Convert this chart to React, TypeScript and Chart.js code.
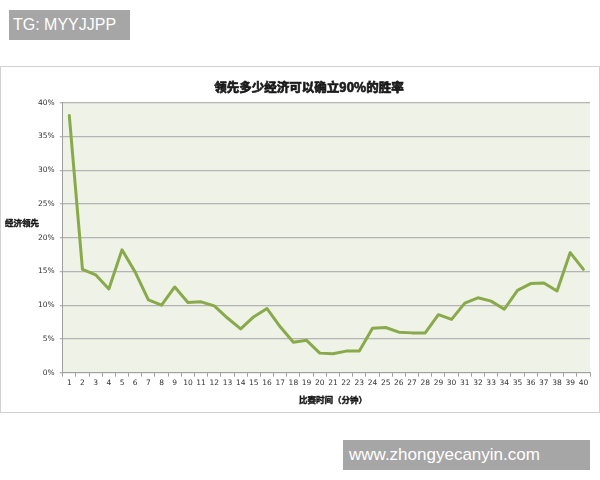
import React, { useEffect, useRef } from 'react';
import { Chart, registerables } from 'chart.js';

Chart.register(...registerables);

// minutes 1..40
const minutes: string[] = [
  '1', '2', '3', '4', '5', '6', '7', '8', '9', '10',
  '11', '12', '13', '14', '15', '16', '17', '18', '19', '20',
  '21', '22', '23', '24', '25', '26', '27', '28', '29', '30',
  '31', '32', '33', '34', '35', '36', '37', '38', '39', '40',
];

// gold lead needed (%) for a 90% win rate
const leadPct: number[] = [
  38.1, 15.3, 14.5, 12.4, 18.2, 14.9, 10.8, 10.0, 12.7, 10.4,
  10.5, 9.9, 8.1, 6.5, 8.3, 9.5, 6.8, 4.5, 4.8, 2.9,
  2.8, 3.2, 3.2, 6.6, 6.7, 6.0, 5.9, 5.9, 8.6, 7.9,
  10.3, 11.1, 10.6, 9.4, 12.2, 13.2, 13.3, 12.1, 17.8, 15.3,
];

const yTicks: number[] = [0, 5, 10, 15, 20, 25, 30, 35, 40];

const chartTitle = '领先多少经济可以确立90%的胜率';
const xTitle = '比赛时间（分钟）';
const yTitle = '经济领先';

const CJK = '"Noto Sans CJK SC", "DejaVu Sans", sans-serif';
const TICK_FONT = '"DejaVu Sans", Verdana, sans-serif';

// text with a thin stroke so it reads heavy like the original
function heavyText(ctx: CanvasRenderingContext2D, text: string, x: number, y: number, stroke: number) {
  ctx.fillText(text, x, y);
  ctx.lineWidth = stroke;
  ctx.strokeText(text, x, y);
}

// background + titles drawn straight on the canvas
const decorPlugin = {
  id: 'decor',
  beforeDraw(chart: any) {
    const { ctx, chartArea: a } = chart;
    ctx.save();
    ctx.fillStyle = '#eef2e7';
    ctx.fillRect(a.left, a.top, a.right - a.left, a.bottom - a.top);
    ctx.restore();
  },
  afterDraw(chart: any) {
    const { ctx } = chart;
    ctx.save();
    ctx.fillStyle = '#1a1a1a';
    ctx.strokeStyle = '#1a1a1a';
    ctx.textAlign = 'center';
    ctx.textBaseline = 'middle';
    ctx.font = 'bold 12.5px ' + CJK;
    heavyText(ctx, chartTitle, 308, 20, 0.7);
    ctx.font = 'bold 8.5px ' + CJK;
    heavyText(ctx, xTitle, 332, 333, 0.45);
    heavyText(ctx, yTitle, 21, 156, 0.45);
    ctx.restore();
  },
};

const App: React.FC = () => {
  const canvasRef = useRef<HTMLCanvasElement>(null);
  const chartRef = useRef<Chart | null>(null);

  useEffect(() => {
    if (!canvasRef.current) return;
    if (chartRef.current) chartRef.current.destroy();

    chartRef.current = new Chart(canvasRef.current, {
      type: 'line',
      data: {
        labels: minutes,
        datasets: [
          {
            data: leadPct,
            borderColor: '#89aa4a',
            borderWidth: 3,
            pointRadius: 0,
            tension: 0,
            borderJoinStyle: 'round',
            borderCapStyle: 'round',
          },
        ],
      },
      options: {
        animation: false,
        responsive: false,
        layout: { padding: { top: 35.7, right: 9, left: 0, bottom: 0 } },
        plugins: {
          legend: { display: false },
          tooltip: { enabled: false },
        },
        scales: {
          x: {
            offset: true,
            afterFit: (s: any) => { s.height = 39.3; },
            grid: {
              offset: true,
              drawOnChartArea: false,
              drawTicks: true,
              tickLength: 4,
              color: '#a0a0a0',
            },
            border: { display: true, color: '#a0a0a0', width: 1 },
            ticks: {
              autoSkip: false,
              maxRotation: 0,
              padding: 2,
              color: '#333',
              font: { family: TICK_FONT, size: 7.5 },
            },
          },
          y: {
            min: 0,
            max: 40,
            afterFit: (s: any) => { s.width = 61.7; },
            afterBuildTicks: (s: any) => {
              s.ticks = yTicks.map((v) => ({ value: v }));
            },
            grid: {
              color: '#b4b4b4',
              lineWidth: 1.3,
              drawTicks: true,
              tickLength: 3,
            },
            border: { display: true, color: '#a0a0a0', width: 1 },
            ticks: {
              padding: 5,
              color: '#333',
              font: { family: TICK_FONT, size: 7.5 },
              callback: (v: any) => v + '%',
            },
          },
        },
      },
      plugins: [decorPlugin],
    });

    return () => {
      if (chartRef.current) {
        chartRef.current.destroy();
        chartRef.current = null;
      }
    };
  }, []);

  return (
    <div style={{ position: 'fixed', left: 0, top: 0, width: 600, height: 480, background: '#fff', overflow: 'hidden' }}>
      {/* watermark top-left */}
      <div style={{
        position: 'absolute', left: 9, top: 10, width: 121, height: 30,
        background: '#a6a6a6', color: '#fff',
        font: '16px "Liberation Sans", Arial, sans-serif',
        lineHeight: '30px', paddingLeft: 4, boxSizing: 'border-box',
      }}>TG: MYYJJPP</div>

      {/* chart frame */}
      <div style={{
        position: 'absolute', left: 0, top: 66, width: 598, height: 345,
        border: '1px solid #d2d2d2', background: '#fff',
      }}>
        <canvas ref={canvasRef} width={598} height={345} style={{ display: 'block' }} />
      </div>

      {/* watermark bottom-right */}
      <div style={{
        position: 'absolute', left: 343, top: 440, width: 247, height: 30,
        background: '#a6a6a6', color: '#fff',
        font: '17px "Liberation Sans", Arial, sans-serif',
        lineHeight: '30px', paddingLeft: 6, boxSizing: 'border-box',
      }}>www.zhongyecanyin.com</div>
    </div>
  );
};

export default App;
